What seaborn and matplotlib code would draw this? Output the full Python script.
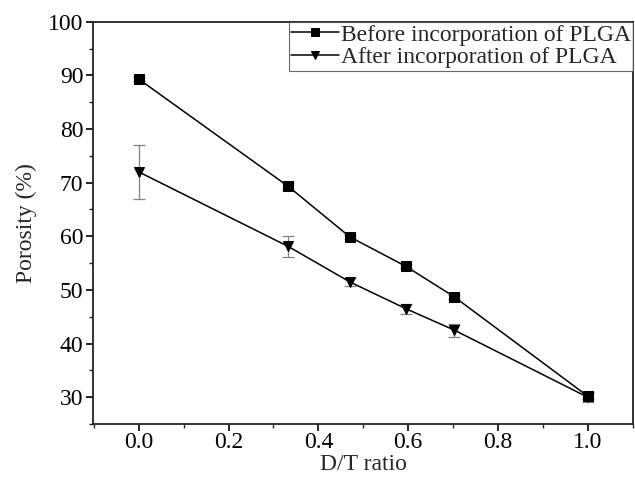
import numpy as np
import pandas as pd
import matplotlib
matplotlib.use("Agg")
import matplotlib.pyplot as plt
import seaborn as sns
from matplotlib.ticker import MultipleLocator

# D/T ratios and porosity values
dt_ratio = [0.0, 0.333, 0.47, 0.595, 0.703, 1.0]
before_plga = [89.3, 69.3, 59.9, 54.4, 48.7, 30.2]
after_plga = [72.0, 58.1, 51.5, 46.5, 42.5, 30.0]
before_err = [0.4, 0.6, 0.4, 0.4, 0.4, 0.5]
after_err = [5.0, 1.9, 0.7, 0.9, 1.2, 0.9]

labels = ["Before incorporation of PLGA", "After incorporation of PLGA"]

df = pd.DataFrame({
    "D/T ratio": dt_ratio * 2,
    "Porosity (%)": before_plga + after_plga,
    "err": before_err + after_err,
    "group": [labels[0]] * len(dt_ratio) + [labels[1]] * len(dt_ratio),
})

sns.set_style("ticks")
plt.rcParams['font.family'] = ['Liberation Serif', 'DejaVu Serif']

fig = plt.figure(figsize=(6.35, 4.84), dpi=100)
ax = fig.add_axes([0.1465, 0.124, 0.851, 0.831])

# error bars first, in grey
for g in labels:
    sub = df[df["group"] == g]
    ax.errorbar(sub["D/T ratio"], sub["Porosity (%)"], yerr=sub["err"], fmt="none",
                ecolor="#808080", elinewidth=0.9, capsize=4, capthick=0.9, zorder=2)

sns.lineplot(data=df, x="D/T ratio", y="Porosity (%)", hue="group", style="group",
             markers={labels[0]: "s", labels[1]: "v"}, dashes=False,
             palette={labels[0]: "black", labels[1]: "black"},
             markersize=7.5, markeredgecolor="black", linewidth=1.1,
             errorbar=None, ax=ax, zorder=3)

ax.set_xlim(-0.102, 1.102)
ax.set_ylim(25, 100)
ax.xaxis.set_minor_locator(MultipleLocator(0.1))
ax.yaxis.set_major_locator(MultipleLocator(10))
ax.yaxis.set_minor_locator(MultipleLocator(5))
ax.set_xticks(np.arange(0, 1.01, 0.2))
ax.set_xticklabels(["0.0", "0.2", "0.4", "0.6", "0.8", "1.0"])
ax.tick_params(axis="both", which="major", direction="out", length=5, width=1.2,
               labelsize=17, colors="black", pad=2)
ax.tick_params(axis="x", which="major", pad=0.5)
ax.tick_params(axis="both", which="minor", direction="out", length=3, width=1.0)
for s in ax.spines.values():
    s.set_linewidth(1.3)
    s.set_color("#222222")

ax.set_xlabel("D/T ratio", fontsize=17, labelpad=1)
ax.set_ylabel("Porosity (%)", fontsize=17, labelpad=8)

leg = ax.legend(loc="upper right", fontsize=17, frameon=True, fancybox=False,
                edgecolor="#444444", handlelength=2.0, handletextpad=0.1,
                borderaxespad=0.0, borderpad=0.1, labelspacing=0.05, markerscale=0.7)
leg.get_frame().set_linewidth(0.8)

fig.savefig("out.png", dpi=100)
